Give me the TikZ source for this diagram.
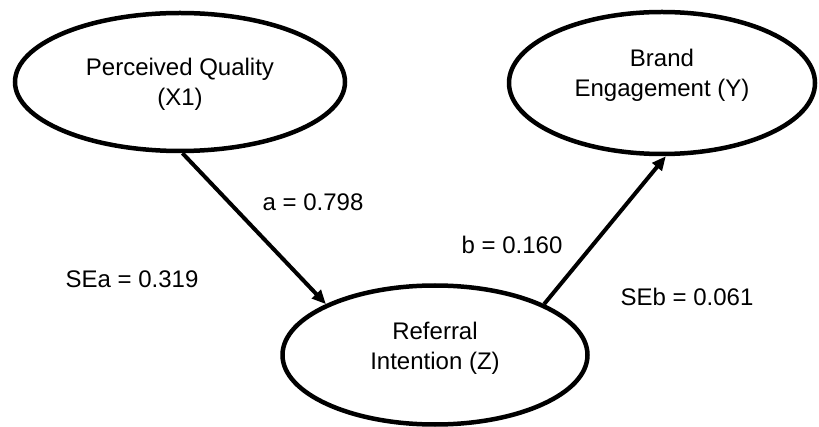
\documentclass[tikz,border=0pt]{standalone}
\usepackage{fontspec}
\setmainfont{Liberation Sans}
\usetikzlibrary{shapes.geometric,arrows.meta}

\begin{document}
\begin{tikzpicture}[x=1pt,y=-1pt,>={Triangle[length=14pt,width=12pt]},
		font=\fontsize{24}{30}\selectfont,
		latent/.style={ellipse,draw,line width=4.5pt,inner sep=0pt},
		caption/.style={align=center},
		link/.style={->,line width=4pt}]
	\useasboundingbox (0,0) rectangle (819,427);

	% constructs
	\node[latent,minimum width=330pt,minimum height=138pt,
		label={[caption,yshift=-2pt]center:{Perceived Quality\\(X1)}}] (X) at (180,82) {};
	\node[latent,minimum width=306pt,minimum height=142pt,
		label={[caption,yshift=8pt]center:{Brand\\Engagement (Y)}}] (Y) at (662,83) {};
	\node[latent,minimum width=305pt,minimum height=139pt,
		label={[caption,yshift=7pt]center:{Referral\\Intention (Z)}}] (Z) at (435,355) {};

	% paths
	\draw[link] (X.272) -- (Z.155);
	\draw[link] (Z.25) -- (Y.273);

	% coefficients
	\node (a) at (313,202) {a = 0.798};
	\node (sea) at (132,279) {SEa = 0.319};
	\node (b) at (512,245) {b = 0.160};
	\node (seb) at (687,297) {SEb = 0.061};
\end{tikzpicture}
\end{document}
